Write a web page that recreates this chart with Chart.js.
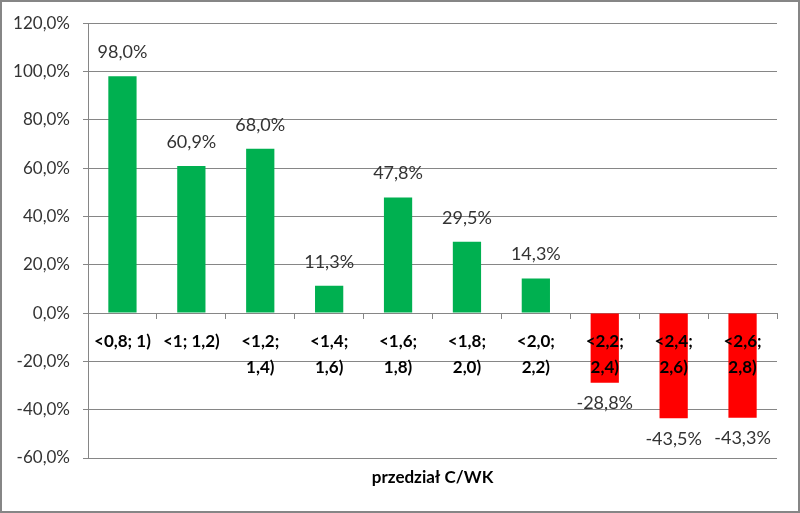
<!DOCTYPE html>
<html lang="pl">
<head>
    <meta charset="UTF-8">
    <title>przedział C/WK</title>
    <style>
        html, body { margin: 0; padding: 0; background: #fff; }
        #wrap { width: 800px; height: 513px; }
    </style>
</head>
<body>
<div id="wrap"><canvas id="chart" width="800" height="513"></canvas></div>

<script src="https://cdn.jsdelivr.net/npm/chart.js"></script>
<script>
    const categories = [
        ['<0,8; 1)'], ['<1; 1,2)'], ['<1,2;', '1,4)'], ['<1,4;', '1,6)'], ['<1,6;', '1,8)'],
        ['<1,8;', '2,0)'], ['<2,0;', '2,2)'], ['<2,2;', '2,4)'], ['<2,4;', '2,6)'], ['<2,6;', '2,8)']
    ];
    const values = [98.0, 60.9, 68.0, 11.3, 47.8, 29.5, 14.3, -28.8, -43.5, -43.3];
    const yTicks = [-60, -40, -20, 0, 20, 40, 60, 80, 100, 120];
    const axisTitle = 'przedział C/WK';

    const FONT = 'Lato, "Open Sans", sans-serif';
    const fmt = v => v.toFixed(1).replace('.', ',') + '%';

    // white background + grey outer frame
    const framePlugin = {
        id: 'frame',
        beforeDraw(chart) {
            const c = chart.ctx;
            c.save();
            c.fillStyle = '#fff';
            c.fillRect(0, 0, chart.width, chart.height);
            c.strokeStyle = '#868686';
            c.lineWidth = 2;
            c.strokeRect(1, 1, chart.width - 2, chart.height - 2);
            c.restore();
        }
    };

    // value labels above / below bars, category labels on top of the bars
    const overlayLabels = {
        id: 'overlayLabels',
        afterDatasetsDraw(chart) {
            const c = chart.ctx;
            const meta = chart.getDatasetMeta(0);
            const x = chart.scales.x;
            const zeroY = chart.scales.y.getPixelForValue(0);
            c.save();
            c.textAlign = 'center';
            c.textBaseline = 'middle';
            c.font = '18px ' + FONT;
            c.fillStyle = '#333';
            meta.data.forEach((bar, i) => {
                const v = values[i];
                const y = v >= 0 ? bar.y - 24 : bar.y + 21;
                c.fillText(fmt(v), bar.x, y);
            });
            c.font = 'bold 17px ' + FONT;
            c.fillStyle = '#000';
            categories.forEach((lines, i) => {
                const cx = x.getPixelForValue(i);
                lines.forEach((t, j) => c.fillText(t, cx, zeroY + 28 + j * 26));
            });
            c.restore();
        }
    };

    new Chart(document.getElementById('chart'), {
        type: 'bar',
        data: {
            labels: categories,
            datasets: [{
                data: values,
                backgroundColor: values.map(v => v >= 0 ? '#00B050' : '#FF0000'),
                barPercentage: 0.41,
                categoryPercentage: 1
            }]
        },
        options: {
            responsive: false,
            animation: false,
            layout: { padding: { left: 0, right: 23, top: 23, bottom: 25 } },
            plugins: {
                legend: { display: false },
                tooltip: { enabled: false }
            },
            scales: {
                y: {
                    min: -60,
                    max: 120,
                    afterBuildTicks: s => { s.ticks = yTicks.map(v => ({ value: v })); },
                    afterFit: s => { s.width = 88; },
                    border: { color: '#868686' },
                    grid: { color: '#868686', tickLength: 5 },
                    ticks: {
                        color: '#333',
                        font: { family: FONT, size: 17 },
                        padding: 13,
                        callback: v => fmt(v)
                    }
                },
                x: {
                    position: { y: 0 },
                    border: { color: '#868686' },
                    grid: { offset: true, drawOnChartArea: false, color: '#868686', tickLength: 5 },
                    ticks: {
                        display: false
                    }
                },
                x2: {
                    type: 'category',
                    labels: categories,
                    position: 'bottom',
                    border: { display: false },
                    grid: { display: false },
                    ticks: { display: false },
                    afterFit: s => { s.height = 30; },
                    title: {
                        display: true,
                        text: axisTitle,
                        color: '#000',
                        font: { family: FONT, size: 17, weight: 'bold' },
                        padding: { top: 0, bottom: 0 }
                    }
                }
            }
        },
        plugins: [framePlugin, overlayLabels]
    });
</script>
</body>
</html>
